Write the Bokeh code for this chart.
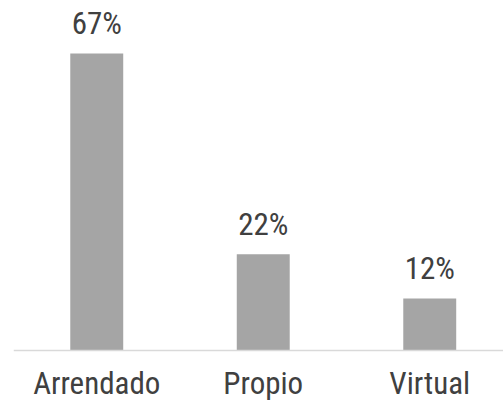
from bokeh.plotting import figure
from bokeh.models import ColumnDataSource, Range1d, LabelSet, Span
from bokeh.core.properties import value
from bokeh.embed import file_html
from bokeh.resources import INLINE

categories = ["Arrendado", "Propio", "Virtual"]
values = [66.7, 21.6, 11.7]
value_labels = ["67%", "22%", "12%"]

positions = [i + 0.5 for i in range(len(categories))]
FONT = "Roboto Condensed"
TEXT_COLOR = "#404040"

src = ColumnDataSource(dict(x=positions, top=values, lab=value_labels,
                            base=[0] * len(categories), cat=categories))

p = figure(width=503, height=405, output_backend="svg", toolbar_location=None,
           x_range=Range1d(0, 2.943), y_range=Range1d(-12.35, 78.6),
           min_border_left=13, min_border_right=0, min_border_top=0, min_border_bottom=0)
p.outline_line_color = None
p.xgrid.visible = False
p.ygrid.visible = False
p.xaxis.visible = False
p.yaxis.visible = False

p.vbar(x="x", top="top", bottom=0, width=0.318, source=src,
       fill_color="#A5A5A5", line_color=None)

p.add_layout(Span(location=0, dimension="width", line_color="#D9D9D9", line_width=1.5))

labels = LabelSet(x="x", y="top", text="lab", source=src, y_offset=19,
                  text_align="center", text_baseline="alphabetic",
                  text_font=value(FONT), text_font_size=value("31px"), text_color=TEXT_COLOR)
p.add_layout(labels)

cat_labels = LabelSet(x="x", y="base", text="cat", source=src, y_offset=-43,
                      text_align="center", text_baseline="alphabetic",
                      text_font=value(FONT), text_font_size=value("31px"), text_color=TEXT_COLOR)
p.add_layout(cat_labels)

open("out.html", "w").write(file_html(p, INLINE))
